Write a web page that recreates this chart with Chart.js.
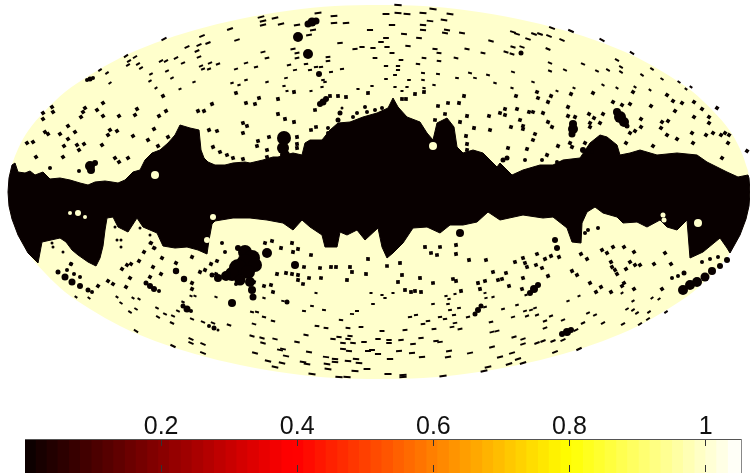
<!DOCTYPE html>
<html>
<head>
<meta charset="utf-8">
<script src="https://cdn.jsdelivr.net/npm/chart.js@4/dist/chart.umd.js"></script>
<style>
  html, body { margin: 0; padding: 0; background: #fff; overflow: hidden; }
  #map { position: absolute; left: 0; top: 0; }
  #bar { position: absolute; left: 0; top: 400px; }
</style>
</head>
<body>
<canvas id="map" width="750" height="400"></canvas>
<canvas id="bar" width="750" height="73"></canvas>
<script>
// outline of the sky
var skyX = [8,9,12,18,28,45,65,90,120,155,195,240,290,335,379,423,468,518,563,603,638,668,693,713,730,740,746,749,750];
var skyTop = [192,178,165,149,131,111,92,75,58,43,30,19,10.5,6,5,6,10.5,19,30,43,58,75,92,111,131,149,165,178,192];
var skyBottom = [192,206,219,235,253,273,292,309,326,341,354,365,373.5,378,379,378,373.5,365,354,341,326,309,292,273,253,235,219,206,192];

// masked galactic plane, upper and lower edge
var bandTopX = [8,9,12,15,18,25,30,35,43,50,60,70,80,88,95,105,112,118,125,133,140,145,152,160,168,175,180,190,199,200,201,204,208,215,225,233,245,250,263,273,278,293,302,305,310,322,330,338,350,363,377,388,393,398,407,420,427,433,437,447,454,457,463,473,483,497,500,507,512,523,540,553,563,580,590,600,607,617,620,630,640,657,677,697,707,727,738,748,749,750];
var bandTopY = [192,178,165,163,172,173,171,175,172,179,178,180,183,185,182,181,182,183,180,172,170,160,153,150,143,135,125,128,130,140,150,158,162,165,165,163,162,163,160,157,157,153,155,143,140,140,130,123,122,117,113,108,98,107,117,122,133,140,123,118,127,147,153,150,153,167,163,170,175,170,165,165,160,158,143,135,137,145,155,153,150,155,153,155,162,172,177,175,178,192];
var bandBottomX = [8,9,12,18,28,38,42,60,66,72,78,88,96,100,103,105,107,113,118,128,137,143,157,163,175,187,198,207,209,212,215,233,250,267,283,293,302,310,322,325,337,340,347,357,365,378,382,387,393,403,413,427,440,450,463,477,488,500,523,543,553,567,572,581,582,587,595,603,617,623,637,647,660,667,677,687,690,703,720,727,730,740,746,749,750];
var bandBottomY = [192,206,219,235,253,263,242,238,242,250,255,262,266,258,246,230,218,217,227,232,218,227,233,246,248,247,250,254,240,224,221,218,218,220,223,230,220,227,235,247,247,232,235,230,240,228,247,258,253,243,228,227,233,225,225,222,212,220,215,218,217,228,242,243,223,212,207,213,217,223,222,227,220,227,230,220,258,252,238,248,253,235,219,206,192];

// larger masked patches, x, y, radius
var blobs = [
  [87,80,2],[90,79,2.5],[93,78,2],[308,24,3.5],[312,22,4.5],[316,21,3.5],[298,37,5],[308,54,5],[319,74,3],
  [320,104,3],[323,102,3.5],[326,99,3],[573,124,4],[573,129,5],[572,134,3.5],[617,112,4],[620,117,6],[624,122,5],[627,126,2.5],
  [90,166,5],[91,170,4],[95,163,3],[79,171,2],[50,168,2],[521,53,2.5],[284,138,7],[283,148,6],[285,155,5],
  [146,283,2.5],[150,286,3],[154,289,3],[159,291,2],[176,271,3.2],[184,279,3.2],[183,306,2.5],[187,309,3.5],[191,311,2],
  [209,326,2],[214,328,2.5],[218,330,1.5],[232,303,4],[530,293,3],[534,289,4],[538,285,3],[562,334,3],[567,332,4],[571,330,3],
  [475,314,2.5],[478,310,3],[481,306,2.5],
  [245,252,7],[252,258,8],[245,262,8],[255,265,7],[238,268,9],[248,272,7],[232,274,7],[226,276,5],[218,278,4],[212,275,2.5],[240,280,5.5],[250,282,5],[252,290,4],[253,297,3.5],[236,284,2],
  [267,253,5],[295,265,4],[460,233,4],[555,240,3],[557,248,3],[588,230,2],[598,228,2],[585,233,2],
  [58,272,2.5],[65,277,3.5],[72,282,3.5],[80,286,3],[88,290,2.5],[92,292,2],[67,270,2],[74,274,2],[80,277,2],[71,264,2],
  [683,290,5],[690,285,5],[697,282,5],[705,277,4.5],[712,271,4],[720,266,3],[727,260,3],[672,278,2],[678,276,2],[684,273,2.5],
  [702,262,2],[710,259,2],[718,257,2],[340,113,2.5],[338,120,2.5],[342,108,1.5],[357,113,2],[353,117,2],[365,107,2],[367,112,2],
  [375,110,2],[382,108,2],[328,128,2],[328,133,2],[583,150,3],[592,152,2],[557,162,2],[561,163,2],[542,160,2],[525,160,2],[507,158,2.5],[503,160,2.5],
  [222,243,2],[225,252,2],[238,248,3],[115,227,1.5],[117,240,1.5],[121,240,1.5],[121,247,1.5],[140,228,1.5],[150,235,1.5],[150,243,1.5],[155,248,1.5],[52,243,1.5],[53,247,1.5],[63,252,1.5],[287,302,2.5]
];

// unmasked pockets inside the plane
var holes = [[155,175,4],[70,213,2],[78,213,3],[85,217,2],[213,217,3],[433,146,4],[698,223,4],[663,215,2.5],[664,220,2.5],[207,240,3]];

// small point sources
var specks = [
  [230,29],[237,40],[202,36],[208,43],[187,47],[199,45],[197,51],[176,58],[161,61],[166,61],[126,56],[135,57],[129,61],[138,64],[128,65],[141,68],[100,70],[107,73],[110,83],[151,74],[167,71],[172,78],[183,63],[164,39],[199,57],[201,66],[210,63],[218,64],[203,69],[209,69],[246,63],[236,69],[232,83],[239,85],[246,80],[236,93],[194,82],[150,81],[156,88],[180,89],[163,96],
  [52,107],[43,113],[53,112],[43,119],[103,103],[85,108],[83,112],[81,117],[97,110],[103,116],[119,116],[137,109],[135,115],[159,116],[166,111],[198,111],[204,111],[212,104],[246,103],[243,123],[247,126],[243,133],[68,126],[45,132],[48,134],[60,134],[75,132],[68,139],[64,146],[77,145],[84,144],[79,150],[102,145],[110,130],[117,131],[108,135],[133,136],[154,129],[148,140],[168,137],[158,146],[209,130],[217,131],[27,143],[33,142],[36,157],[63,157],[115,158],[128,158],[119,162],[213,147],[220,152],[227,155],[233,158],[243,159],
  [261,17],[275,18],[263,21],[263,25],[281,24],[297,25],[318,13],[334,16],[334,23],[346,23],[398,5],[386,14],[398,13],[407,14],[423,13],[433,9],[450,14],[430,21],[444,20],[392,25],[370,30],[423,25],[423,30],[447,30],[445,33],[462,33],[404,34],[419,38],[386,38],[381,42],[491,41],[340,43],[313,30],[309,35],[293,49],[297,53],[297,58],[263,52],[267,58],[355,49],[362,47],[373,48],[387,47],[408,46],[392,53],[435,49],[439,53],[467,49],[483,53],[456,58],[424,58],[439,61],[418,64],[401,60],[375,58],[386,66],[398,66],[398,70],[256,67],[289,65],[295,70],[306,64],[310,70],[316,67],[321,67],[328,57],[328,61],[331,72],[342,69],[323,80],[325,82],[322,87],[286,78],[267,82],[284,86],[287,91],[294,92],[311,91],[358,89],[368,93],[372,86],[386,79],[395,75],[395,87],[402,91],[409,80],[407,87],[423,73],[423,80],[424,88],[424,92],[415,94],[434,85],[438,74],[457,78],[470,73],[475,78],[488,75],[495,83],[464,96],[259,98],[255,104],[278,99],[330,96],[338,96],[346,97],[402,99],[406,99],[448,103],[459,103],[438,106],[278,114],[315,110],[285,119],[294,122],[445,114],[467,116],[460,122],[489,116],[474,128],[490,130],[435,120],[311,130],[316,127],[269,137],[258,141],[257,146],[267,150],[267,157],[297,137],[297,144],[297,148],[466,136],[467,144],[467,150],
  [513,32],[517,34],[528,39],[534,34],[540,34],[549,36],[552,28],[571,31],[562,40],[602,40],[632,53],[506,52],[512,54],[513,47],[522,47],[548,49],[550,63],[550,71],[565,70],[583,64],[597,71],[608,70],[617,60],[621,67],[621,72],[652,69],[642,75],[662,79],[679,82],[691,87],[513,72],[533,82],[512,88],[516,96],[538,98],[537,92],[551,96],[557,91],[548,102],[571,94],[574,88],[593,93],[603,85],[617,88],[635,87],[633,92],[650,90],[686,89],[667,95],[613,102],[622,105],[630,104],[651,106],[673,101],[682,103],[694,102],[675,111],[702,109],[717,108],[568,107],[575,117],[568,116],[589,114],[594,118],[603,114],[590,123],[600,123],[590,127],[548,122],[552,127],[520,120],[523,126],[511,127],[523,129],[529,112],[533,112],[543,113],[517,109],[500,113],[505,115],[505,109],[641,119],[662,122],[668,121],[641,127],[635,131],[630,133],[694,117],[709,117],[709,123],[661,128],[667,135],[677,139],[692,133],[706,135],[713,133],[721,135],[725,133],[729,135],[693,143],[728,143],[535,134],[533,140],[558,146],[570,143],[572,147],[626,143],[653,146],[527,149],[508,148],[547,155],[585,143],[722,158],[747,151],
  [71,264],[98,286],[76,297],[89,298],[108,281],[113,284],[117,297],[121,303],[133,298],[139,299],[130,312],[136,309],[126,287],[130,278],[122,269],[127,265],[131,264],[139,261],[144,252],[153,267],[162,258],[150,277],[161,274],[157,308],[158,317],[165,314],[173,316],[172,323],[136,331],[173,346],[191,339],[191,343],[203,344],[203,353],[192,319],[203,322],[229,325],[213,323],[178,311],[183,302],[176,263],[192,283],[192,289],[191,296],[195,296],[216,297],[151,243],[154,248],[192,257],[200,272],[211,264],[217,261],[205,270],[216,274],
  [265,243],[272,241],[292,243],[298,249],[281,248],[293,252],[311,255],[368,259],[387,266],[400,263],[425,247],[440,247],[456,245],[431,253],[437,255],[456,254],[469,260],[486,260],[277,274],[286,273],[292,274],[298,275],[298,280],[303,284],[309,278],[304,267],[320,268],[331,267],[336,267],[350,267],[352,272],[321,278],[347,280],[366,274],[402,275],[398,282],[420,278],[433,283],[453,279],[456,281],[478,283],[485,281],[493,272],[498,280],[254,282],[264,286],[271,285],[273,292],[264,298],[316,293],[371,293],[382,295],[385,298],[393,293],[405,290],[411,292],[415,291],[421,292],[446,296],[449,299],[455,294],[461,291],[480,289],[485,293],[486,298],[493,297],[373,304],[448,304],[433,304],[459,308],[450,310],[454,315],[485,307],[468,317],[283,301],[312,306],[304,311],[324,310],[352,314],[357,311],[410,317],[416,315],[440,317],[445,319],[423,324],[428,321],[341,320],[252,312],[257,312],[264,317],[273,321],[254,324],[317,326],[326,328],[348,328],[361,327],[382,331],[405,330],[434,329],[455,323],[452,327],[460,329],[491,322],[497,331],[492,332],[306,335],[333,339],[339,337],[348,339],[350,336],[343,343],[353,343],[364,342],[378,339],[389,340],[389,343],[401,340],[413,344],[421,338],[436,341],[440,342],[252,336],[262,338],[275,339],[263,343],[297,342],[283,349],[280,350],[309,352],[343,349],[349,351],[368,351],[372,350],[378,354],[399,351],[412,353],[422,357],[449,351],[448,357],[470,353],[492,347],[255,353],[286,356],[268,361],[282,363],[303,362],[307,364],[326,357],[335,359],[335,362],[327,364],[348,361],[356,359],[359,363],[390,359],[275,367],[328,369],[355,371],[367,369],[312,374],[339,377],[347,377],[388,374],[403,375],[403,377],[443,376],[484,371],[488,367],
  [515,262],[523,258],[525,263],[527,267],[536,265],[537,254],[545,259],[551,256],[559,257],[542,268],[581,254],[587,259],[602,250],[607,253],[613,247],[624,247],[634,252],[611,262],[612,267],[615,270],[617,274],[626,269],[630,262],[635,265],[640,265],[654,264],[671,264],[665,253],[572,271],[577,275],[548,276],[506,273],[502,279],[523,278],[509,286],[522,289],[526,295],[590,283],[596,292],[601,287],[611,292],[622,286],[624,283],[622,293],[634,289],[662,289],[568,301],[579,296],[633,301],[652,298],[659,299],[517,305],[503,309],[525,311],[531,310],[535,308],[537,315],[527,316],[513,317],[545,321],[551,316],[563,320],[588,313],[595,315],[583,323],[603,323],[623,324],[627,309],[633,310],[637,313],[649,312],[666,312],[648,319],[640,324],[545,328],[576,330],[563,340],[553,341],[543,341],[537,343],[523,344],[514,337],[523,339],[555,352],[579,349],[512,353],[518,359],[509,364],[523,363],[500,357]
];

// colour bar
var barLevels = [0.008,0.025,0.041,0.057,0.074,0.090,0.107,0.123,0.139,0.156,0.172,0.189,0.205,0.221,0.238,0.254,0.271,0.287,0.304,0.320,0.336,0.353,0.369,0.386,0.402,0.418,0.435,0.451,0.468,0.484,0.500,0.517,0.533,0.550,0.566,0.582,0.599,0.615,0.632,0.648,0.664,0.681,0.697,0.714,0.730,0.746,0.763,0.779,0.796,0.812,0.829,0.845,0.861,0.878,0.894,0.911,0.927,0.943,0.960,0.976,0.993,1.009,1.025,1.042];
var barTicks = [0.2,0.4,0.6,0.8,1];

var cream = '#ffffcc';
var dark = '#080000';

function hot(v) {
    var r = Math.min(1, 0.03 + v / 0.4);
    var g = Math.max(0, Math.min(1, (v - 0.4) / 0.4));
    var b = Math.max(0, Math.min(1, (v - 0.8) / 0.25));
    return 'rgb(' + Math.round(r * 255) + ',' + Math.round(g * 255) + ',' + Math.round(b * 255) + ')';
}

function zip(xs, ys) {
    return xs.map(function(x, i) { return { x: x, y: ys[i] }; });
}

function toPoints(list) {
    return list.map(function(p) { return { x: p[0], y: p[1], r: p[2] }; });
}

// sources get stretched towards the poles of the projection
function lat(ctx) {
    return ctx.raw ? Math.abs(ctx.raw.y - 192) : 0;
}

// line along the top of the colour bar
var barFrame = {
    id: 'barFrame',
    afterDraw: function(chart) {
        var a = chart.chartArea, c = chart.ctx;
        c.save();
        c.strokeStyle = '#555';
        c.lineWidth = 1;
        c.beginPath();
        c.moveTo(a.left, a.top + 0.5);
        c.lineTo(a.right, a.top + 0.5);
        c.stroke();
        c.restore();
    }
};

new Chart(document.getElementById('map'), {
    type: 'scatter',
    data: {
        datasets: [
            { data: zip(skyX, skyTop), showLine: true, fill: '+1', backgroundColor: cream, borderColor: cream, borderWidth: 0, pointRadius: 0, cubicInterpolationMode: 'monotone', order: 10 },
            { data: zip(skyX, skyBottom), showLine: true, fill: false, borderColor: cream, borderWidth: 0, pointRadius: 0, cubicInterpolationMode: 'monotone', order: 11 },
            { data: zip(bandTopX, bandTopY), showLine: true, fill: '+1', backgroundColor: dark, borderColor: dark, borderWidth: 1, pointRadius: 0, order: 8 },
            { data: zip(bandBottomX, bandBottomY), showLine: true, fill: false, borderColor: dark, borderWidth: 1, pointRadius: 0, order: 9 },
            { data: toPoints(blobs), backgroundColor: dark, borderWidth: 0, pointRadius: function(ctx) { return ctx.raw ? ctx.raw.r : 0; }, order: 6 },
            { data: toPoints(holes), backgroundColor: cream, borderWidth: 0, pointRadius: function(ctx) { return ctx.raw ? ctx.raw.r : 0; }, order: 5 },
            {
                data: toPoints(specks),
                backgroundColor: dark,
                borderColor: dark,
                pointStyle: function(ctx) { return lat(ctx) > 100 ? 'line' : 'rect'; },
                pointRadius: function(ctx) {
                    var d = lat(ctx);
                    return d > 100 ? 1.5 + (d - 100) * 0.025 : 2.6;
                },
                pointBorderWidth: function(ctx) { return lat(ctx) > 100 ? 2 : 0; },
                rotation: function(ctx) {
                    var p = ctx.raw;
                    if (!p) return 0;
                    var t = Math.max(-35, Math.min(35, 32 * (p.x - 379) / 250));
                    return p.y < 192 ? t : -t;
                },
                order: 4
            }
        ]
    },
    options: {
        responsive: false,
        animation: false,
        events: [],
        layout: { padding: 0, autoPadding: false },
        plugins: { legend: { display: false }, tooltip: { enabled: false } },
        scales: {
            x: { type: 'linear', min: 0, max: 750, display: false },
            y: { type: 'linear', min: 0, max: 400, reverse: true, display: false }
        }
    }
});

new Chart(document.getElementById('bar'), {
    type: 'bar',
    data: {
        datasets: [{
            data: barLevels.map(function(v) { return { x: v, y: 1 }; }),
            backgroundColor: barLevels.map(hot),
            borderWidth: 0,
            barThickness: 12
        }]
    },
    plugins: [barFrame],
    options: {
        responsive: false,
        animation: false,
        events: [],
        layout: { padding: { left: 25, right: 9, top: 0, bottom: 0 }, autoPadding: false },
        plugins: { legend: { display: false }, tooltip: { enabled: false } },
        scales: {
            x: {
                type: 'linear',
                position: 'top',
                min: 0,
                max: 1.052,
                offset: false,
                afterBuildTicks: function(scale) {
                    scale.ticks = barTicks.map(function(v) { return { value: v }; });
                },
                afterFit: function(scale) { scale.height = 39; },
                ticks: {
                    maxRotation: 0,
                    autoSkip: false,
                    padding: -3,
                    color: '#111',
                    font: { family: '"Liberation Sans", Arial, sans-serif', size: 25 },
                    callback: function(v) { return String(v); }
                },
                grid: { color: '#333', lineWidth: 1, tickLength: 0, offset: false, z: 1 },
                border: { display: false, dash: [7, 19] }
            },
            y: {
                position: 'right',
                min: 0,
                max: 1,
                afterFit: function(scale) { scale.width = 0; },
                ticks: { display: false },
                grid: { display: false },
                border: { color: '#888', width: 1 }
            }
        }
    }
});
</script>
</body>
</html>
